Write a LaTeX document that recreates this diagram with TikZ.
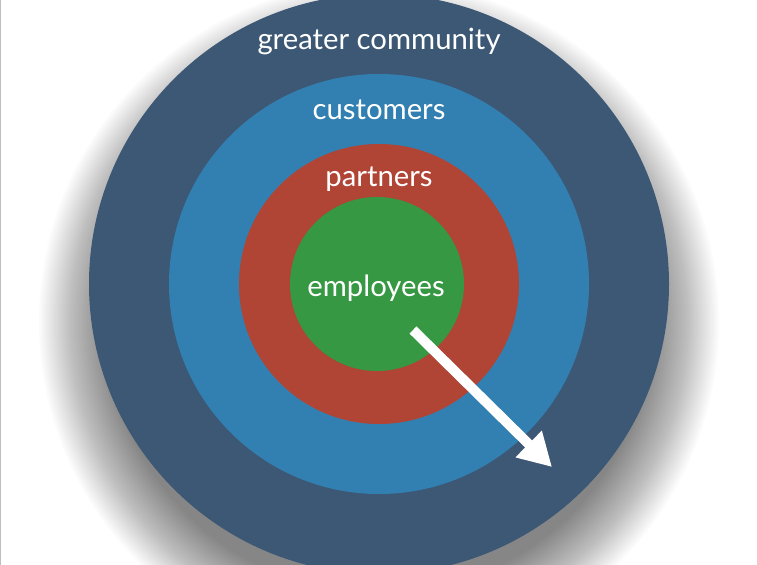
\documentclass[tikz,border=0pt]{standalone}
\usepackage{fontspec}
\setmainfont{Lato}
\usetikzlibrary{arrows.meta}
\definecolor{communityblue}{RGB}{60,88,117}
\definecolor{customerblue}{RGB}{50,128,178}
\definecolor{partnerred}{RGB}{176,68,53}
\definecolor{employeegreen}{RGB}{54,152,66}
\tikzset{
    ring/.style={draw=none},
    ringlabel/.style={text=white, font=\fontsize{25}{28}\selectfont, inner sep=0pt}
}
\begin{document}
\begin{tikzpicture}[x=0.03cm, y=-0.03cm]
    \useasboundingbox (0,0) rectangle (757,565);
    \fill[white] (0,0) rectangle (757,565);
    \draw[black!25, line width=0.8pt] (0.5,0) -- (0.5,565);
    % soft shadow under the outer ring
    \foreach \i in {0,...,34}
        \fill[black, opacity=0.015] (379,322) circle[radius=272+2*\i];
    % rings, outside in
    \fill[ring, communityblue] (379,284) circle[radius=290];
    \fill[ring, customerblue] (379,284) circle[radius=210];
    \fill[ring, partnerred] (379,284) circle[radius=140];
    \fill[ring, employeegreen] (377,284) circle[radius=87];
    % labels
    \node[ringlabel] (community) at (379,41) {greater community};
    \node[ringlabel] (customers) at (379,110) {customers};
    \node[ringlabel] (partners) at (379,179) {partners};
    \node[ringlabel] (employees) at (376,288) {employees};
    % arrow outward
    \coordinate (start) at (413,330);
    \coordinate (tip) at (552,467);
    \draw[white, line width=8.5pt, -{Triangle[width=30pt, length=28pt]}] (start) -- (tip);
\end{tikzpicture}
\end{document}
